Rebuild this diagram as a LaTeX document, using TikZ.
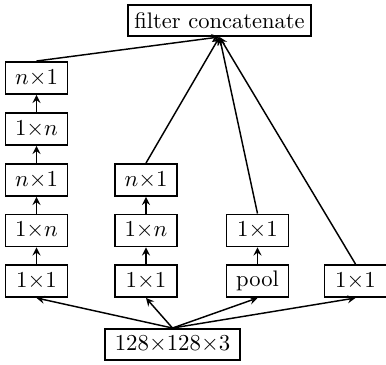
\documentclass[tikz,border=0pt]{standalone}
\begin{document}
\begin{tikzpicture}[x=0.48pt,y=-0.48pt,line width=0.7pt,font=\fontsize{10.8}{13}\selectfont,
    box/.style={draw,line width=0.9pt,inner sep=0pt,minimum width=29.8pt,minimum height=15.4pt}]
                \useasboundingbox (0,0) rectangle (386,364);
                \path
                (219.5,20.5) node[box,minimum width=87.8pt,minimum height=14.9pt] (F) {filter concatenate}
                (172.5,344.5) node[box,minimum width=64.8pt,minimum height=14.9pt] (In) {$128{\times}128{\times}3$}
                (36.5,281) node[box] (a1) {$1{\times}1$}
                (36.5,230.5) node[box] (a2) {$1{\times}n$}
                (36.5,180) node[box] (a3) {$n{\times}1$}
                (36.5,129) node[box] (a4) {$1{\times}n$}
                (36.5,78) node[box] (a5) {$n{\times}1$}
                (146,281) node[box] (b1) {$1{\times}1$}
                (146,230.5) node[box] (b2) {$1{\times}n$}
                (146,180) node[box] (b3) {$n{\times}1$}
                (257.5,281) node[box] (c1) {pool}
                (257.5,230.5) node[box] (c2) {$1{\times}1$}
                (355.5,281) node[box] (d1) {$1{\times}1$}
                ;
                \foreach \x in {a1,b1,c1,d1}\draw[-stealth] (In.north)--(\x.south);
                \foreach \x/\y in {a1/a2,a2/a3,a3/a4,a4/a5,b1/b2,b2/b3,c1/c2}\draw[-stealth] (\x.north)--(\y.south);
                \foreach \x in {a5,b3,c2,d1}\draw[-stealth] (\x.north)--(F.south);
            \end{tikzpicture}
\end{document}
